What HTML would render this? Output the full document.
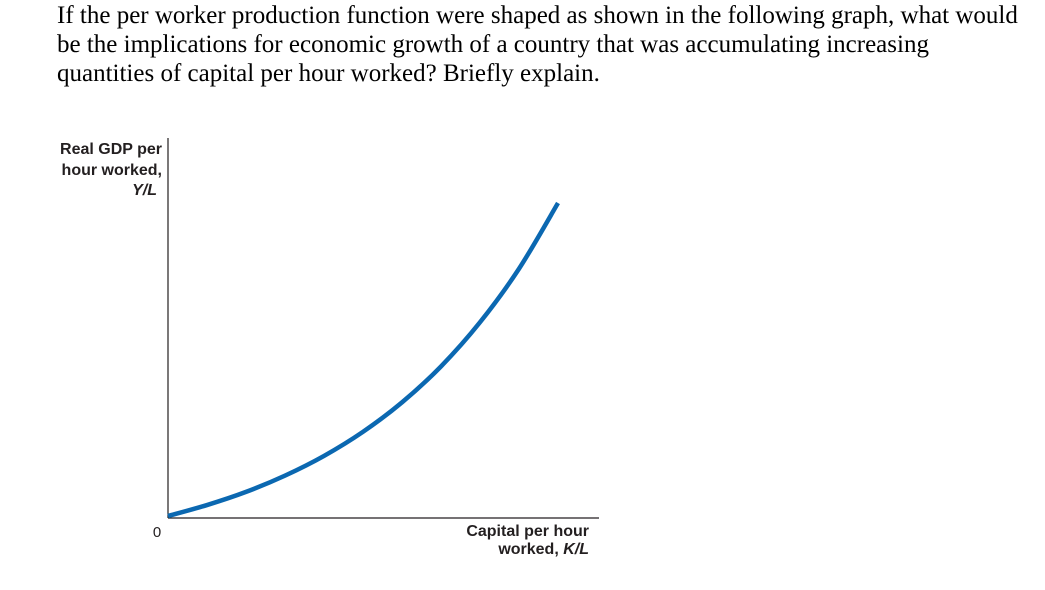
<!DOCTYPE html>
<html><head><meta charset="utf-8"><style>
body{margin:0;width:1045px;height:590px;background:#fff;overflow:hidden;position:relative}
.q{position:absolute;left:57px;top:1px;font-family:"Liberation Serif",serif;font-size:25px;line-height:29px;color:#000;white-space:nowrap}
svg{position:absolute;left:0;top:0}
.lab{font-family:"Liberation Sans",sans-serif;font-size:16px;font-weight:bold;fill:#231f20}
</style></head><body>
<div class="q">If the per worker production function were shaped as shown in the following graph, what would<br>be the implications for economic growth of a country that was accumulating increasing<br>quantities of capital per hour worked? Briefly explain.</div>
<svg width="1045" height="590">
<line x1="168" y1="138" x2="168" y2="518" stroke="#231f20" stroke-width="1.2"/>
<line x1="168" y1="518" x2="599" y2="518" stroke="#231f20" stroke-width="1.2"/>
<text class="lab" x="162" y="154" text-anchor="end">Real GDP per</text>
<text class="lab" x="162" y="175" text-anchor="end">hour worked,</text>
<text class="lab" x="157" y="195" text-anchor="end" font-style="italic">Y/L</text>
<text x="157" y="537" text-anchor="middle" font-family="Liberation Sans,sans-serif" font-size="15" fill="#231f20">0</text>
<text class="lab" x="589" y="536" text-anchor="end">Capital per hour</text>
<text class="lab" x="589" y="554" text-anchor="end">worked, <tspan font-style="italic">K/L</tspan></text>
<path id="curve" fill="none" stroke="#0b68b1" stroke-width="4.5"/>
</svg>
<script>
const kValues=[0,1,2,3,4,5,6,7,8,9,10];
const yValues=[0,0.35,0.77,1.29,1.92,2.69,3.63,4.78,6.19,7.9,10];
function xs(k){return 168+k*39;}
function ys(y){return 516-y*31.3;}
let d="";
for(let i=0;i<kValues.length;i++){
  const px=xs(kValues[i]),py=ys(yValues[i]);
  if(i===0){d+="M"+px+","+py;}
  else{
    const p0=i>1?[xs(kValues[i-2]),ys(yValues[i-2])]:[xs(kValues[i-1]),ys(yValues[i-1])];
    const p1=[xs(kValues[i-1]),ys(yValues[i-1])];
    const p3=i<kValues.length-1?[xs(kValues[i+1]),ys(yValues[i+1])]:[px,py];
    const c1=[p1[0]+(px-p0[0])/6,p1[1]+(py-p0[1])/6];
    const c2=[px-(p3[0]-p1[0])/6,py-(p3[1]-p1[1])/6];
    d+=" C"+c1[0]+","+c1[1]+" "+c2[0]+","+c2[1]+" "+px+","+py;
  }
}
document.getElementById('curve').setAttribute('d',d);
</script>
</body></html>
